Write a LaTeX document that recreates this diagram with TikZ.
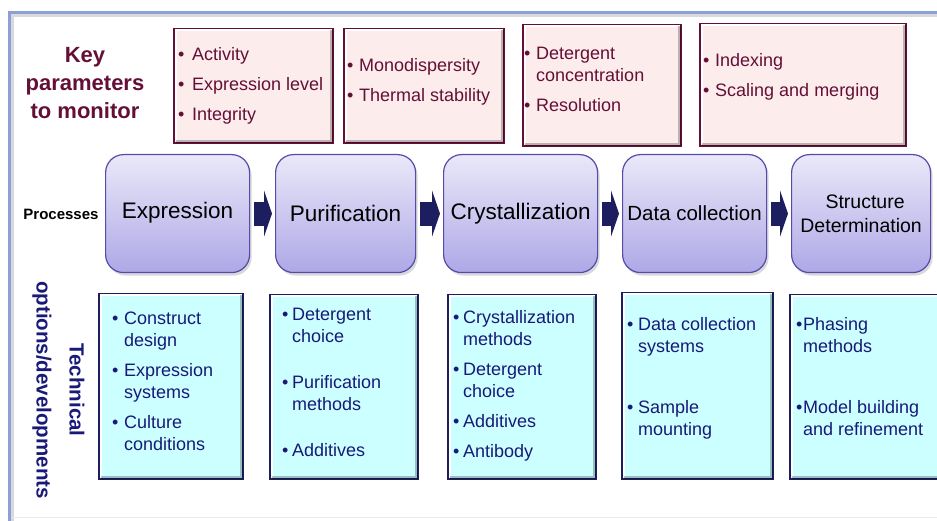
\documentclass[tikz,border=0pt]{standalone}
\usepackage{fontspec}
\setmainfont{Liberation Sans}
\usetikzlibrary{arrows.meta,positioning,shadows}

\definecolor{keyred}{RGB}{100,15,55}
\definecolor{keypink}{RGB}{253,236,236}
\definecolor{procline}{RGB}{85,75,170}
\definecolor{proctop}{RGB}{234,232,249}
\definecolor{procbot}{RGB}{174,168,230}
\definecolor{flownavy}{RGB}{28,30,95}
\definecolor{techfill}{RGB}{204,255,255}
\definecolor{techline}{RGB}{30,30,95}
\definecolor{techblue}{RGB}{25,25,120}
\definecolor{framebl}{RGB}{140,160,215}

\newcommand{\fs}[2]{\fontsize{#1}{#2}\selectfont}
\newcommand{\itm}[2][12pt]{\makebox[#1][l]{\textbullet}#2}
\newcommand{\cnt}[2][12pt]{\hspace*{#1}#2}

\begin{document}
\begin{tikzpicture}[x=1pt, y=-1pt,
  keybox/.style={draw=keyred, line width=2pt, fill=keypink, anchor=north west, inner sep=0pt},
  keytext/.style={anchor=north west, inner sep=0pt, align=left, text=keyred, font=\fs{18}{22}},
  procbox/.style={draw=procline, line width=1.2pt, rounded corners=18pt, top color=proctop, bottom color=procbot,
    anchor=north west, inner sep=0pt, minimum height=118pt,
    drop shadow={shadow xshift=2pt, shadow yshift=-3pt, opacity=.3}},
  techbox/.style={draw=techline, line width=2pt, fill=techfill, anchor=north west, inner sep=0pt},
  techtext/.style={anchor=north west, inner sep=0pt, align=left, text=techblue, font=\fs{18}{22}},
  flow/.style={line width=24pt, draw=flownavy, -{Triangle[length=8pt, width=46pt]}, shorten <=4pt, shorten >=3pt},
  bevelhi/.style={white, line width=2pt},
  bevello/.style={black, opacity=.25, line width=2.5pt},
]
\useasboundingbox (0,0) rectangle (937,521);

% frame
\draw[framebl, line width=3pt] (9.5,521) -- (9.5,12.5) -- (937,12.5);
\draw[black!15, line width=2.5pt] (12.5,521) -- (12.5,15.5) -- (937,15.5);
\draw[black!8, line width=1pt] (12,517) -- (937,517);

% row labels
\node[align=center, font=\bfseries\fs{22}{28}, text=keyred] (keylbl) at (85,83) {Key\\parameters\\to monitor};
\node[font=\bfseries\fs{15}{18}] (proclbl) at (61,214) {Processes};
\node[rotate=-90, font=\bfseries\fs{20.5}{24}, text=techblue] (tech1) at (77,390) {Technical};
\node[rotate=-90, font=\bfseries\fs{20.5}{24}, text=techblue] (tech2) at (42,390) {options/developments};

% key parameters
\node[keybox, minimum width=159pt, minimum height=114pt] (kp1) at (173,28) {};
\node[keybox, minimum width=160pt, minimum height=114pt] (kp2) at (343,28) {};
\node[keybox, minimum width=158pt, minimum height=121pt] (kp3) at (522,24) {};
\node[keybox, minimum width=206pt, minimum height=122pt] (kp4) at (699,23) {};

% technical options
\node[techbox, minimum width=144pt, minimum height=185pt] (te1) at (98,293) {};
\node[techbox, minimum width=148pt, minimum height=184pt] (te2) at (269,294) {};
\node[techbox, minimum width=148pt, minimum height=184pt] (te3) at (447,294) {};
\node[techbox, minimum width=151pt, minimum height=186pt] (te4) at (621,292) {};
\node[techbox, minimum width=151pt, minimum height=184pt] (te5) at (789,294) {};

% bevelled edges
\foreach \b in {kp1,kp2,kp3,kp4,te1,te2,te3,te4,te5} {
  \draw[bevelhi] ([shift={(2.5,-2.5)}]\b.south west) -- ([shift={(2.5,2.5)}]\b.north west) -- ([shift={(-2.5,2.5)}]\b.north east);
  \draw[bevello] ([shift={(-2.5,2.5)}]\b.north east) -- ([shift={(-2.5,-2.5)}]\b.south east) -- ([shift={(2.5,-2.5)}]\b.south west);
}

\node[keytext] (kt1) at (178,47) {\itm[14pt]{Activity}\\[8pt]\itm[14pt]{Expression level}\\[8pt]\itm[14pt]{Integrity}};
\node[keytext] (kt2) at (347,58) {\itm{Monodispersity}\\[8pt]\itm{Thermal stability}};
\node[keytext] (kt3) at (524,47) {\itm{Detergent}\\\cnt{concentration}\\[8pt]\itm{Resolution}};
\node[keytext] (kt4) at (703,53) {\itm{Indexing}\\[8pt]\itm{Scaling and merging}};

\node[techtext] (tt1) at (112,312) {\itm{Construct}\\\cnt{design}\\[8pt]\itm{Expression}\\\cnt{systems}\\[8pt]\itm{Culture}\\\cnt{conditions}};
\node[techtext] (tt2) at (282,308) {\itm[10pt]{Detergent}\\\cnt[10pt]{choice}\\[24pt]\itm[10pt]{Purification}\\\cnt[10pt]{methods}\\[24pt]\itm[10pt]{Additives}};
\node[techtext] (tt3) at (453,310) {\itm[10pt]{Crystallization}\\\cnt[10pt]{methods}\\[8pt]\itm[10pt]{Detergent}\\\cnt[10pt]{choice}\\[8pt]\itm[10pt]{Additives}\\[8pt]\itm[10pt]{Antibody}};
\node[techtext] (tt4) at (627,317) {\itm[11pt]{Data collection}\\\cnt[11pt]{systems}\\[39pt]\itm[11pt]{Sample}\\\cnt[11pt]{mounting}};
\node[techtext] (tt5) at (796,317) {\itm[7pt]{Phasing}\\\cnt[7pt]{methods}\\[39pt]\itm[7pt]{Model building}\\\cnt[7pt]{and refinement}};

% processes
\node[procbox, minimum width=144pt, font=\fs{22.5}{26}] (pr1) at (105,154) {\raisebox{6pt}{Expression}};
\node[procbox, minimum width=140pt, font=\fs{22.5}{26}] (pr2) at (275,154) {Purification};
\node[procbox, minimum width=154pt, font=\fs{22.5}{26}] (pr3) at (443,154) {Crystallization};
\node[procbox, minimum width=144pt, font=\fs{20.5}{24}] (pr4) at (622,154) {Data collection};
\node[procbox, minimum width=139pt, font=\fs{19.5}{24}, align=center] (pr5) at (791,154) {\hspace*{8pt}Structure\\Determination};

\foreach \a/\b in {pr1/pr2,pr2/pr3,pr3/pr4,pr4/pr5}
  \draw[flow] (\a.east) -- (\b.west);
\end{tikzpicture}
\end{document}
